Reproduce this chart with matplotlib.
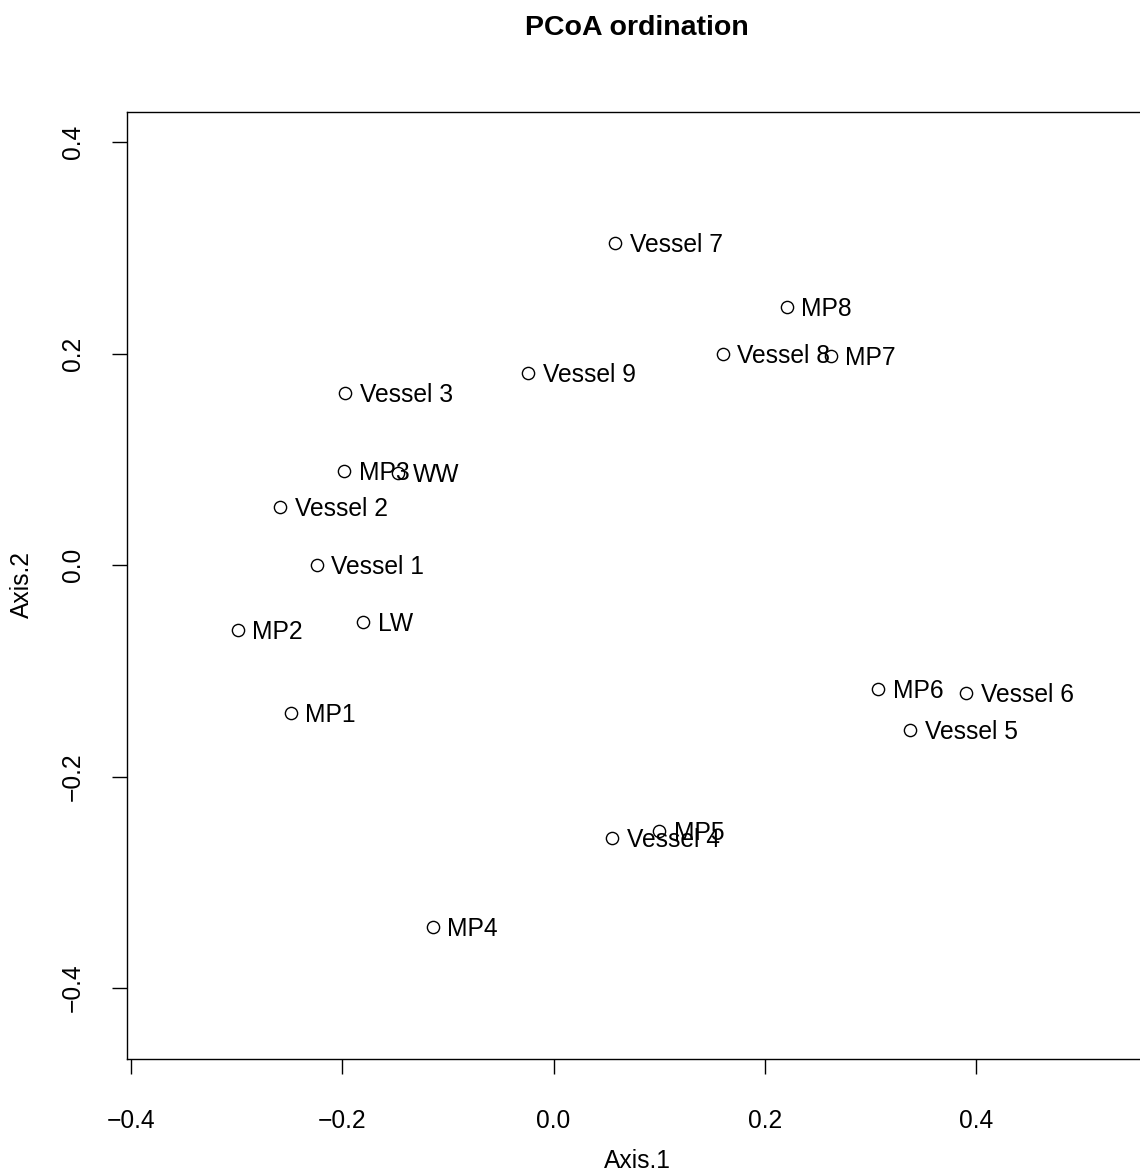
import matplotlib
matplotlib.use("Agg")
import matplotlib.pyplot as plt

# PCoA coordinates
labels = ["Vessel 7", "MP8", "Vessel 8", "MP7", "Vessel 9", "Vessel 3", "MP3", "WW",
          "Vessel 2", "Vessel 1", "LW", "MP2", "MP1", "MP6", "Vessel 6", "Vessel 5",
          "Vessel 4", "MP5", "MP4"]
axis1 = [0.0582, 0.2208, 0.1602, 0.2624, -0.0239, -0.1974, -0.1983, -0.1472,
         -0.2589, -0.2242, -0.1804, -0.2989, -0.2488, 0.3075, 0.3905, 0.3375,
         0.0554, 0.0999, -0.1144]
axis2 = [0.3048, 0.2440, 0.1995, 0.1976, 0.1818, 0.1629, 0.0889, 0.0870,
         0.0551, 0.0000, -0.0536, -0.0615, -0.1402, -0.1173, -0.1208, -0.1560,
         -0.2582, -0.2515, -0.3420]

xticks = [-0.4, -0.2, 0.0, 0.2, 0.4]
yticks = [-0.4, -0.2, 0.0, 0.2, 0.4]
ticklabels = ["\u22120.4", "\u22120.2", "0.0", "0.2", "0.4"]

plt.rcParams['font.family'] = ['Liberation Sans', 'DejaVu Sans']

fig = plt.figure(figsize=(11.4, 11.76), dpi=100)
ax = fig.add_axes([127 / 1140, 117 / 1176, 1021 / 1140, 947 / 1176])

ax.plot(axis1, axis2, linestyle="none", marker="o", markersize=8.8,
        markerfacecolor="none", markeredgecolor="black", markeredgewidth=1.0)
for lab, x, y in zip(labels, axis1, axis2):
    ax.annotate(lab, (x, y), xytext=(10.5, -1.5), textcoords="offset points",
                ha="left", va="center", fontsize=17.7)

ax.set_xlim(-0.4038, 0.5628)
ax.set_ylim(-0.4671, 0.4284)
ax.set_xticks(xticks)
ax.set_yticks(yticks)
ax.set_xticklabels(ticklabels)
ax.set_yticklabels(ticklabels, rotation=90, va="center")
ax.tick_params(length=11, width=1.0, labelsize=17.7)
ax.tick_params(axis="x", pad=25)
ax.tick_params(axis="y", pad=19.5)
for s in ax.spines.values():
    s.set_linewidth(1.0)

fig.text(637 / 1140, 1 - 28 / 1176, "PCoA ordination", ha="center", va="center",
         fontsize=20.5, fontweight="bold")
fig.text(637 / 1140, 1 - 1161 / 1176, "Axis.1", ha="center", va="center", fontsize=17.7)
fig.text(22 / 1140, 1 - 585 / 1176, "Axis.2", ha="center", va="center",
         fontsize=17.7, rotation=90)

fig.savefig("out.png", dpi=100)
